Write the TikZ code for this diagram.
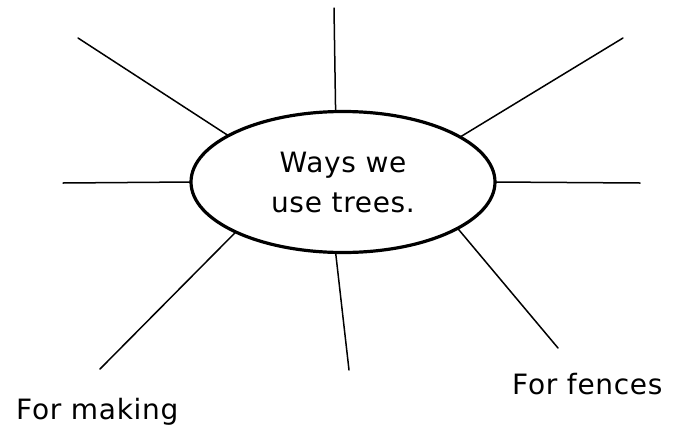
\documentclass[tikz,border=0pt]{standalone}
\usepackage{fontspec}
\setmainfont{DejaVu Sans}[LetterSpace=2.5]
\usetikzlibrary{shapes.geometric}
\begin{document}
\begin{tikzpicture}[x=1pt,y=-1pt,
  spoke/.style={line width=1.5pt,line cap=round},
  hub/.style={ellipse,draw,line width=3.2pt,inner sep=0pt,outer sep=0pt,
    minimum width=304pt,minimum height=141pt,align=center,
    font=\fontsize{28}{40}\selectfont},
  label/.style={anchor=base west,inner sep=0pt,font=\fontsize{28}{34}\selectfont}]
\useasboundingbox (0,0) rectangle (675,426);
\node[hub] (c) at (343,182) {Ways we\\use trees.};
% outer ends of the spokes
\coordinate (pT)  at (334,8);
\coordinate (pUL) at (78,38);
\coordinate (pUR) at (623,38);
\coordinate (pL)  at (63,183);
\coordinate (pR)  at (640,183);
\coordinate (pLL) at (100,369);
\coordinate (pB)  at (349,370);
\coordinate (pLR) at (558,348);
\draw[spoke] (pT)  -- (c.96);
\draw[spoke] (pUL) -- (c.158.6);
\draw[spoke] (pUR) -- (c.21.8);
\draw[spoke] (pL)  -- (c.180);
\draw[spoke] (pR)  -- (c.0);
\draw[spoke] (pLL) -- (c.205.5);
\draw[spoke] (pB)  -- (c.264);
\draw[spoke] (pLR) -- (c.338.2);
\node[label] (making) at (16,419) {For making};
\node[label] (fences) at (512,394) {For fences};
\end{tikzpicture}
\end{document}
